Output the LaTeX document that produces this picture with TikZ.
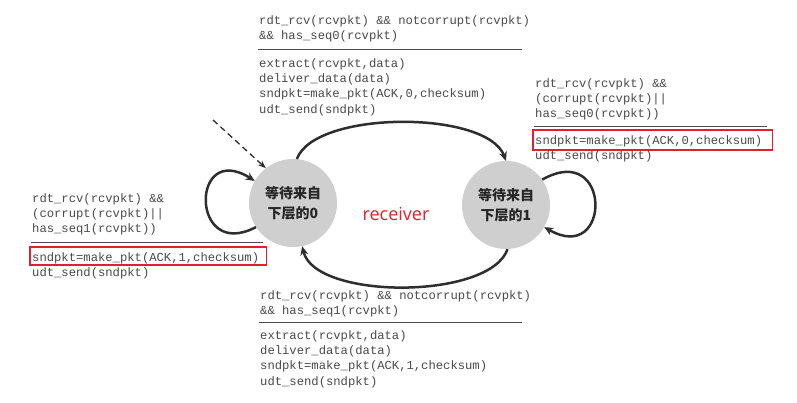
\documentclass[tikz,border=0pt]{standalone}
\usepackage{fontspec}
\setmainfont{Open Sans}
\newfontfamily\codefont{Liberation Mono}
\newfontfamily\cjkfont{Noto Sans CJK SC}
\usetikzlibrary{arrows.meta,calc}
\definecolor{codegray}{HTML}{4A4A4A}
\definecolor{stategray}{HTML}{CFCFCF}
\definecolor{arrowgray}{HTML}{2E2E2E}
\definecolor{boxred}{HTML}{E0202A}
\tikzset{
  code/.style={font=\codefont\fontsize{12.2}{15.4}\selectfont, text=codegray, align=left, anchor=north west, inner sep=0pt},
  state/.style={circle, fill=stategray, minimum size=88pt, inner sep=0pt, font=\cjkfont\bfseries\fontsize{14}{20}\selectfont, align=center, text=black!85},
  trans/.style={line width=2.5pt, draw=arrowgray, -{Stealth[length=9pt,width=8pt]}},
  rulel/.style={line width=1pt, draw=codegray},
  redbox/.style={draw=boxred, line width=1.5pt},
}
\begin{document}
\begin{tikzpicture}[x=1pt,y=-1pt]
\useasboundingbox (0,0) rectangle (797,403);
\fill[white] (0,0) rectangle (797,403);

% states
\node[state] (L) at (293,203) {等待来自\\下层的0};
\node[state] (R) at (506,205) {等待来自\\下层的1};
\node[font=\fontsize{18}{20}\selectfont, text=boxred] (recv) at (396,214) {receiver};

% transitions
\draw[trans] (L.85) .. controls (315,110) and (487,110) .. (R.90);
\draw[trans] (R.-88) .. controls (490,300) and (315,300) .. (L.-78);
\draw[trans] (L.213) .. controls (190,262) and (190,140) .. (L.150);
\draw[trans] (R.35) .. controls (612,140) and (612,266) .. (R.-30);
\coordinate (init) at (213,120);
\draw[line width=1.3pt, draw=arrowgray, dash pattern=on 6pt off 4pt, -{Stealth[length=8pt,width=6pt]}] (init) -- (L.128);

% top block
\node[code] (g1) at (259,15) {rdt\_rcv(rcvpkt) \&\& notcorrupt(rcvpkt)\\\&\& has\_seq0(rcvpkt)};
\draw[rulel] (258,50) -- (522,50);
\node[code] (a1) at (259,58) {extract(rcvpkt,data)\\deliver\_data(data)\\sndpkt=make\_pkt(ACK,0,checksum)\\udt\_send(sndpkt)};

% right block
\node[code] (g2) at (535,78) {rdt\_rcv(rcvpkt) \&\&\\(corrupt(rcvpkt)||\\has\_seq0(rcvpkt))};
\draw[rulel] (534,127) -- (767,127);
\node[code] (a2) at (535,135) {sndpkt=make\_pkt(ACK,0,checksum)\\udt\_send(sndpkt)};
\draw[redbox] ($(a2.north west)+(-2,-5)$) rectangle ($(a2.north east)+(10,15)$);

% left block
\node[code] (g3) at (32,193) {rdt\_rcv(rcvpkt) \&\&\\(corrupt(rcvpkt)||\\has\_seq1(rcvpkt))};
\draw[rulel] (31,243) -- (263,243);
\node[code] (a3) at (32,252) {sndpkt=make\_pkt(ACK,1,checksum)\\udt\_send(sndpkt)};
\draw[redbox] ($(a3.north west)+(-2,-5)$) rectangle ($(a3.north east)+(7,13)$);

% bottom block
\node[code] (g4) at (260,290) {rdt\_rcv(rcvpkt) \&\& notcorrupt(rcvpkt)\\\&\& has\_seq1(rcvpkt)};
\draw[rulel] (259,322) -- (522,322);
\node[code] (a4) at (260,330) {extract(rcvpkt,data)\\deliver\_data(data)\\sndpkt=make\_pkt(ACK,1,checksum)\\udt\_send(sndpkt)};
\end{tikzpicture}
\end{document}
